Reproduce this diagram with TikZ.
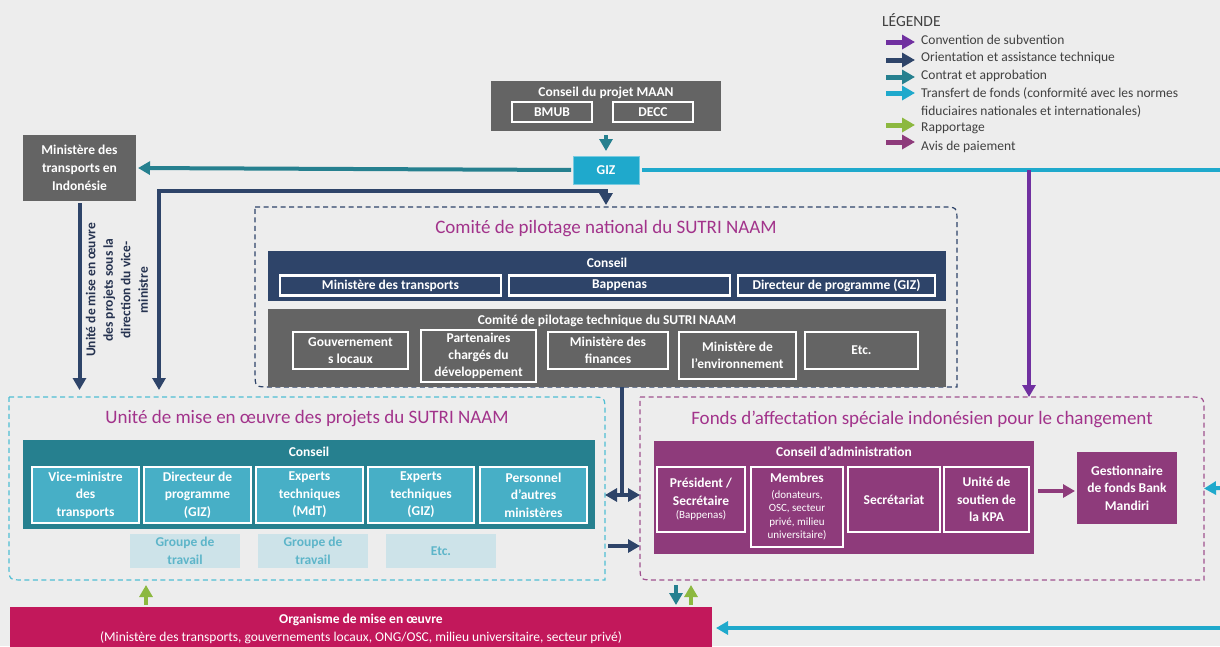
\documentclass[tikz,border=0pt]{standalone}
\usepackage{fontspec}
\setmainfont{Carlito}
\usetikzlibrary{arrows.meta}
\definecolor{bg}{HTML}{EDEDED}
\definecolor{dgray}{HTML}{646464}
\definecolor{navy}{HTML}{2E4469}
\definecolor{cTeal}{HTML}{26808F}
\definecolor{cTealL}{HTML}{47AFC6}
\definecolor{cCyan}{HTML}{1FA9CC}
\definecolor{cUni}{HTML}{4FBED3}
\definecolor{cGrpF}{HTML}{CDE3E9}
\definecolor{cGrpT}{HTML}{5DB5C9}
\definecolor{cPlum}{HTML}{8E3B7B}
\definecolor{cPlumD}{HTML}{A0528F}
\definecolor{cViolet}{HTML}{7030A0}
\definecolor{cGreen}{HTML}{8CB83F}
\definecolor{cPink}{HTML}{C2185B}
\definecolor{cTitle}{HTML}{A2338B}
\definecolor{cLeg}{HTML}{404040}
\definecolor{cRot}{HTML}{263350}
\newcommand{\myfs}[2]{\fontsize{#1}{#2}\selectfont}
\newcommand{\dashframe}[5]{%
  \draw[#1] (#2,#3) -- ({#4-15},#3) .. controls (#4,#3) .. (#4,{#3+15}) -- (#4,#5)
    -- ({#2+15},#5) .. controls (#2,#5) .. (#2,{#5-15}) -- cycle;}
\begin{document}
\begin{tikzpicture}[x=1pt,y=-1pt,
  sz/.style 2 args={minimum width=#1pt, minimum height=#2pt},
  box/.style={inner sep=0pt, outer sep=0pt, align=center, text=white, font=\bfseries\myfs{13.5}{17.5}},
  wbox/.style={box, draw=white, line width=2.6pt},
  lbl/.style={inner sep=0pt, align=center, text=white, font=\bfseries\myfs{13.5}{17.5}},
  ttl/.style={inner sep=0pt, text=cTitle, font=\myfs{19}{22}},
  frm/.style={inner sep=0pt, outer sep=0pt},
  leg/.style={anchor=west, inner sep=0pt, text=cLeg, font=\myfs{13.5}{17.5}, align=left},
  arw/.style={line width=4pt, -{Triangle[length=12pt,width=13pt]}},
  larw/.style={line width=5pt, -{Triangle[length=13pt,width=14pt]}},
  dbl/.style={line width=4pt, {Triangle[length=12pt,width=13pt]}-{Triangle[length=12pt,width=13pt]}},
  fline/.style={dash pattern=on 5pt off 3.5pt, line width=1.2pt},
  small/.style={}
]
\useasboundingbox (0,0) rectangle (1220,646);
\fill[bg] (0,0) rectangle (1220,646);

% ---------- Legend ----------
\node[leg, font=\myfs{15.5}{18}] (legT) at (882,20) {LÉGENDE};
\node[leg] (lg1) at (921,40) {Convention de subvention};
\node[leg] (lg2) at (921,58) {Orientation et assistance technique};
\node[leg] (lg3) at (921,76) {Contrat et approbation};
\node[leg] (lg4) at (921,102.5) {Transfert de fonds (conformité avec les normes\\fiduciaires nationales et internationales)};
\node[leg] (lg5) at (921,128) {Rapportage};
\node[leg] (lg6) at (921,147) {Avis de paiement};
\coordinate (l1a) at (886,42);  \coordinate (l1b) at (915,42);
\coordinate (l2a) at (886,60);  \coordinate (l2b) at (915,60);
\coordinate (l3a) at (886,77);  \coordinate (l3b) at (915,77);
\coordinate (l4a) at (886,93);  \coordinate (l4b) at (915,93);
\coordinate (l5a) at (886,125); \coordinate (l5b) at (915,125);
\coordinate (l6a) at (886,142); \coordinate (l6b) at (915,142);
\draw[larw, draw=cViolet] (l1a) -- (l1b);
\draw[larw, draw=navy] (l2a) -- (l2b);
\draw[larw, draw=cTeal] (l3a) -- (l3b);
\draw[larw, draw=cCyan] (l4a) -- (l4b);
\draw[larw, draw=cGreen] (l5a) -- (l5b);
\draw[larw, draw=cPlum] (l6a) -- (l6b);

% ---------- Frames ----------
\dashframe{fline, draw=navy}{255}{207}{957}{387}
\dashframe{fline, draw=cUni}{9}{397}{605}{580}
\dashframe{fline, draw=cPlumD}{640}{397}{1204}{580}
\node[frm, sz={702}{180}] (comite) at (606,297) {};
\node[frm, sz={596}{183}] (unite) at (307,488.5) {};
\node[frm, sz={564}{183}] (fonds) at (922,488.5) {};

% ---------- Top ----------
\node[box, fill=dgray, sz={230}{50}] (maan) at (606,106) {};
\node[lbl] (maanT) at (606,93) {Conseil du projet MAAN};
\node[wbox, fill=dgray, sz={80}{20}] (bmub) at (552,112) {BMUB};
\node[wbox, fill=dgray, sz={80}{20}] (decc) at (653,112) {DECC};
\node[box, fill=cCyan, draw=cCyan!60!white, line width=0.8pt, sz={66}{28}] (giz) at (606,170) {GIZ};
\node[box, fill=dgray, sz={113}{66}, font=\bfseries\myfs{13.5}{18}] (mti) at (79.5,168) {Ministère des\\transports en\\Indonésie};
\node[inner sep=0pt, align=center, rotate=90, text=cRot, font=\bfseries\myfs{13.5}{17.5}] (rotT) at (117,290)
  {Unité de mise en œuvre\\des projets sous la\\direction du vice-\\ministre};

% ---------- Comité national ----------
\node[ttl] (comT) at (606,229) {Comité de pilotage national du SUTRI NAAM};
\node[box, fill=navy, sz={678}{50}] (cons1) at (607,276) {};
\node[lbl] (cons1T) at (607,263) {Conseil};
\node[wbox, fill=navy, sz={221}{20}] (c1a) at (390.5,285.5) {Ministère des transports};
\node[wbox, fill=navy, sz={221}{20}] (c1b) at (619.5,285.5) {Bappenas};
\node[wbox, fill=navy, sz={197}{20}] (c1c) at (836.5,285.5) {Directeur de programme (GIZ)};
\node[box, fill=dgray, sz={678}{78}] (tech) at (607,348) {};
\node[lbl] (techT) at (607,321) {Comité de pilotage technique du SUTRI NAAM};
\node[wbox, fill=dgray, sz={115}{37}] (t1) at (350.5,350.5) {Gouvernement\\s locaux};
\node[wbox, fill=dgray, sz={115}{52}, font=\bfseries\myfs{13.5}{17}] (t2) at (478.5,356) {Partenaires\\chargés du\\développement};
\node[wbox, fill=dgray, sz={120}{37}] (t3) at (608,350.5) {Ministère des\\finances};
\node[wbox, fill=dgray, sz={117}{47}] (t4) at (737.5,355.5) {Ministère de\\l’environnement};
\node[wbox, fill=dgray, sz={113}{37}] (t5) at (861.5,350.5) {Etc.};

% ---------- Unité ----------
\node[ttl] (uniT) at (307,419) {Unité de mise en œuvre des projets du SUTRI NAAM};
\node[box, fill=cTeal, sz={572}{89}] (ucons) at (309,484.5) {};
\node[lbl] (uconsT) at (309,452) {Conseil};
\node[wbox, fill=cTealL, sz={107}{56}] (u1) at (85.5,495) {Vice-ministre\\des\\transports};
\node[wbox, fill=cTealL, sz={107}{56}] (u2) at (197.5,495) {Directeur de\\programme\\(GIZ)};
\node[wbox, fill=cTealL, sz={107}{56}] (u3) at (309.5,495) {Experts\\techniques\\(MdT)};
\node[wbox, fill=cTealL, sz={106}{56}] (u4) at (421,495) {Experts\\techniques\\(GIZ)};
\node[wbox, fill=cTealL, sz={107}{56}] (u5) at (533.5,495) {Personnel\\d'autres\\ministères};
\node[box, fill=cGrpF, text=cGrpT, sz={110}{34}] (g1) at (185,551) {Groupe de\\travail};
\node[box, fill=cGrpF, text=cGrpT, sz={110}{34}] (g2) at (313,551) {Groupe de\\travail};
\node[box, fill=cGrpF, text=cGrpT, sz={110}{34}] (g3) at (441,551) {Etc.};

% ---------- Fonds ----------
\node[ttl] (fonT) at (922,419) {Fonds d'affectation spéciale indonésien pour le changement};
\node[box, fill=cPlum, sz={380}{113}] (fcons) at (844,497.5) {};
\node[lbl] (fconsT) at (844,452) {Conseil d'administration};
\node[wbox, fill=cPlum, sz={88}{65}] (f1) at (701,499.5)
  {Président /\\Secrétaire\\[-4pt]{\mdseries\myfs{11}{12}(Bappenas)}};
\node[wbox, fill=cPlum, sz={92}{80}] (f2) at (797,507)
  {Membres\\[-2pt]{\mdseries\myfs{11}{12}(donateurs,}\\[-4pt]{\mdseries\myfs{11}{12}OSC, secteur}\\[-4pt]{\mdseries\myfs{11}{12}privé, milieu}\\[-4pt]{\mdseries\myfs{11}{12}universitaire)}};
\node[wbox, fill=cPlum, sz={92}{65}] (f3) at (894,499.5) {Secrétariat};
\node[wbox, fill=cPlum, sz={85}{65}] (f4) at (986.5,499.5) {Unité de\\soutien de\\la KPA};
\node[box, fill=cPlum, sz={100}{72}] (gest) at (1127,488) {Gestionnaire\\de fonds Bank\\Mandiri};

% ---------- Organisme ----------
\node[box, fill=cPink, sz={702}{42}] (org) at (361,628) {};
\node[lbl] (orgT1) at (361,620) {Organisme de mise en œuvre};
\node[lbl, font=\myfs{13.5}{15}] (orgT2) at (361,638) {(Ministère des transports, gouvernements locaux, ONG/OSC, milieu universitaire, secteur privé)};

% ---------- Connectors ----------
\draw[arw, draw=cTeal, shorten <=4pt, shorten >=5pt] (maan.south) -- (giz.north);
\draw[arw, draw=cTeal, shorten <=2pt, shorten >=2pt] (giz.west) -- (mti.east);
\coordinate (eR1) at (1220,170);
\draw[line width=4pt, draw=cCyan, shorten <=3pt] (giz.east) -- (eR1);
\coordinate (pv) at (1029,170);
\draw[arw, draw=cViolet] (pv) -- (pv |- fonds.north);
\coordinate (eR2) at (1220,488);
\draw[arw, draw=cCyan] (eR2) -- (fonds.east);
\coordinate (eR3) at (1220,628);
\draw[arw, draw=cCyan, shorten >=4pt] (eR3) -- (org.east);

\draw[arw, draw=navy, shorten <=2pt, shorten >=7pt] (mti.south) -- (mti.south |- unite.north);
\coordinate (nv) at (606,191);
\coordinate (nvL) at (159,191);
\draw[dbl, draw=navy, shorten <=7pt, shorten >=2pt] (nvL |- unite.north) -- (nvL) -- (nv) -- (comite.north);

\coordinate (cb) at (622,387);
\coordinate (cj) at (622,495);
\draw[line width=4pt, draw=navy] (cb) -- (cj);
\draw[dbl, draw=navy] (unite.east |- cj) -- (fonds.west |- cj);
\coordinate (ns) at (608,546);
\draw[arw, draw=navy] (ns) -- (fonds.west |- ns);

\coordinate (tx) at (676,0);
\coordinate (gx) at (691,0);
\coordinate (gx2) at (146,0);
\draw[arw, draw=cTeal, line width=3.5pt, shorten <=5pt, shorten >=2pt] (fonds.south -| tx) -- (org.north -| tx);
\draw[arw, draw=cGreen, line width=3.5pt, shorten <=2pt, shorten >=5pt] (org.north -| gx) -- (fonds.south -| gx);
\draw[arw, draw=cGreen, line width=3.5pt, shorten <=2pt, shorten >=5pt] (org.north -| gx2) -- (unite.south -| gx2);

\coordinate (ay) at (0,491);
\draw[arw, draw=cPlum, shorten <=4pt, shorten >=2pt] (fcons.east |- ay) -- (gest.west |- ay);
\end{tikzpicture}
\end{document}
